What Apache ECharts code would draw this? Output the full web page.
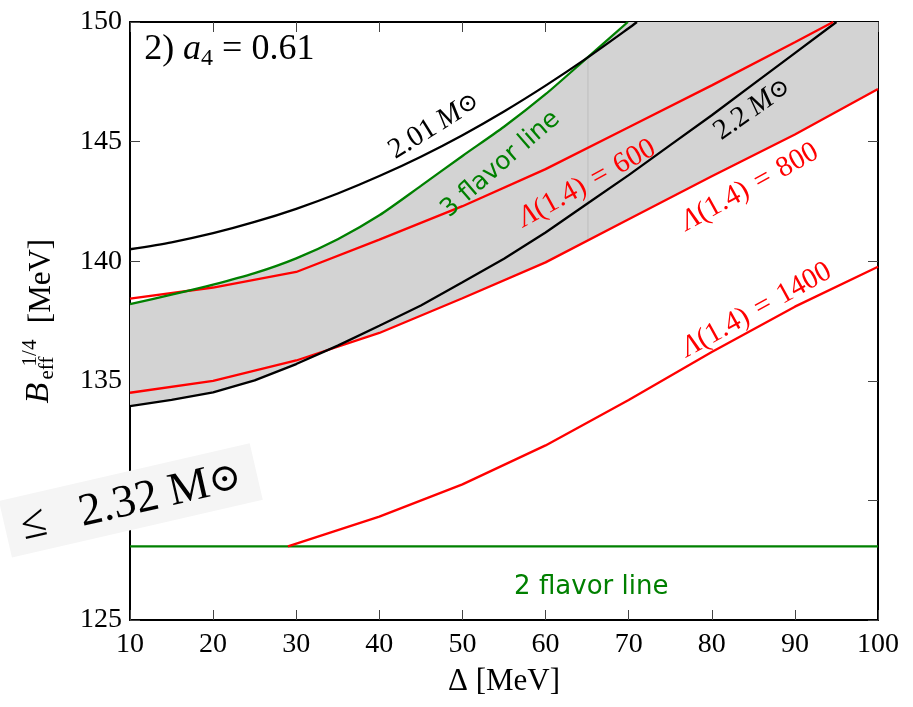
<!DOCTYPE html>
<html><head><meta charset="utf-8">
<script src="https://cdn.jsdelivr.net/npm/echarts@6/dist/echarts.min.js"></script>
<style>html,body{margin:0;padding:0;background:#fff}#c{width:913px;height:707px}</style>
</head><body><div id="c"></div>
<script>
// ---- data (Δ [MeV], B_eff^{1/4} [MeV]) ----
const xTicks = [10, 20, 30, 40, 50, 60, 70, 80, 90, 100];
const yTicks = [125, 130, 135, 140, 145, 150];
const mass201 = [[10,140.5],[15,140.79],[20,141.17],[25,141.64],[30,142.19],[35,142.83],[40,143.56],[45,144.37],[50,145.27],[55,146.26],[60,147.34],[65,148.5],[70,149.74],[71,150.0]];
const mass22 = [[10,133.94],[15,134.2],[20,134.52],[25,135.02],[30,135.7],[35,136.47],[40,137.3],[45,138.15],[50,139.12],[55,140.1],[60,141.2],[65,142.4],[70,143.6],[75,144.85],[80,146.1],[85,147.4],[90,148.7],[95,150.0]];
const flavor3 = [[10,138.21],[15,138.6],[20,139.02],[25,139.5],[30,140.12],[35,140.92],[40,141.92],[45,143.15],[50,144.4],[55,145.62],[60,146.98],[65,148.5],[69.9,150.0]];
const flavor2 = [[10,128.08],[100,128.08]];
const lam600 = [[10,138.44],[20,138.9],[30,139.55],[40,140.9],[50,142.3],[60,143.85],[70,145.6],[80,147.35],[90,149.15],[94.6,150.0]];
const lam800 = [[10,134.5],[20,135.0],[30,135.85],[40,137.0],[50,138.45],[60,139.95],[70,141.75],[80,143.55],[90,145.3],[100,147.2]];
const lam1400 = [[29,128.08],[40,129.32],[50,130.67],[60,132.3],[70,134.2],[80,136.2],[90,138.1],[100,139.77]];
const seam = [[65.1,148.5],[65.1,140.85]];

const SERIF = '"Liberation Serif","Times New Roman",serif';
const SANS = '"DejaVu Sans",sans-serif';
const RED = '#ff0000', GREEN = '#008000';

function interp(arr, x) {
  if (x < arr[0][0] || x > arr[arr.length-1][0]) return null;
  for (let i = 0; i < arr.length - 1; i++) {
    const a = arr[i], b = arr[i+1];
    if (x >= a[0] && x <= b[0]) return a[1] + (b[1]-a[1]) * (x-a[0]) / (b[0]-a[0]);
  }
  return arr[arr.length-1][1];
}
// shaded band: between 3-flavor line (capped at 150) and the lower of 2.2 Msun / Λ=800
const xs = [];
for (let x = 10; x <= 100.001; x += 0.5) xs.push(+x.toFixed(2));
const upper = xs.map(x => { const g = interp(flavor3, x); return [x, g === null ? 150 : Math.min(g, 150)]; });
const lower = xs.map(x => { const m = interp(mass22, x); const l = interp(lam800, x); return [x, m === null ? l : Math.min(m, l)]; });
const bandPts = upper.concat(lower.slice().reverse());

const chart = echarts.init(document.getElementById('c'), null, {renderer: 'canvas'});
const lineS = (data, color, smooth) => ({type: 'line', data, symbol: 'none', showSymbol: false, clip: true,
  smooth: smooth || false, lineStyle: {color, width: 2.3}, z: 3, silent: true});

const axisCommon = {
  type: 'value', splitLine: {show: false},
  axisLine: {show: true, onZero: false, lineStyle: {color: '#000', width: 2}},
  axisTick: {show: true, inside: true, length: 10, lineStyle: {color: '#444', width: 1}}
};
chart.setOption({
  animation: false,
  backgroundColor: '#fff',
  grid: {left: 130, right: 35, top: 22, bottom: 87},
  xAxis: [
    Object.assign({}, axisCommon, {position: 'bottom', min: xTicks[0], max: xTicks[xTicks.length-1], interval: 10,
      axisLabel: {fontFamily: SERIF, fontSize: 28, color: '#000', margin: 11},
      name: 'Δ [MeV]', nameLocation: 'middle', nameGap: 46,
      nameTextStyle: {fontFamily: SERIF, fontSize: 31, color: '#000'}}),
    Object.assign({}, axisCommon, {position: 'top', min: xTicks[0], max: xTicks[xTicks.length-1], interval: 10,
      axisLabel: {show: false}})
  ],
  yAxis: [
    Object.assign({}, axisCommon, {position: 'left', min: yTicks[0], max: yTicks[yTicks.length-1], interval: 5,
      axisLabel: {fontFamily: SERIF, fontSize: 28, color: '#000', margin: 8}}),
    Object.assign({}, axisCommon, {position: 'right', min: yTicks[0], max: yTicks[yTicks.length-1], interval: 5,
      axisLabel: {show: false}})
  ],
  series: [
    {type: 'custom', silent: true, z: 1, clip: true, data: [[10, 130]],
      renderItem: (p, api) => ({type: 'polygon', shape: {points: bandPts.map(q => api.coord(q))}, style: {fill: '#d3d3d3'}})},
    {type: 'line', data: seam, symbol: 'none', lineStyle: {color: '#bdbdbd', width: 1}, z: 2, silent: true},
    lineS(flavor2, GREEN),
    lineS(lam1400, RED),
    lineS(lam800, RED),
    lineS(mass22, '#000'),
    lineS(lam600, RED),
    lineS(flavor3, GREEN, 0.25),
    lineS(mass201, '#000', 0.25)
  ]
});

// ---- annotations (anchored in data coordinates) ----
const deg = d => d * Math.PI / 180;
const P = (x, y) => chart.convertToPixel({gridIndex: 0}, [x, y]);
const serifRich = (size, color) => ({
  n: {fontFamily: SERIF, fontSize: size, fill: color},
  i: {fontFamily: SERIF, fontSize: size, fill: color, fontStyle: 'italic'},
  o: {fontFamily: '"DejaVu Serif",serif', fontSize: size * 0.85, fill: color}
});
function label(x, y, rot, text, rich, extra) {
  const p = P(x, y);
  return {type: 'text', x: p[0], y: p[1], rotation: deg(rot), z: 100, silent: true,
    style: Object.assign({text, rich, align: 'center', verticalAlign: 'middle'}, (extra || {}))};
}
const lamRich = serifRich(29, RED);
const graphics = [
  (function () { const p = P(11.7, 148.85); return {type: 'text', x: p[0], y: p[1], z: 100, silent: true,
    style: {text: '{n|2) }{i|a}{s|4}{n|\u2005=\u20050.61}', align: 'left', verticalAlign: 'middle',
      rich: {n: {fontFamily: SERIF, fontSize: 36, fill: '#000'}, i: {fontFamily: SERIF, fontSize: 36, fill: '#000', fontStyle: 'italic'},
        s: {fontFamily: SERIF, fontSize: 24, fill: '#000', padding: [18, 0, 0, 0]}}}}; })(),
  label(46.6, 145.65, 32, '{n|2.01\u2009}{i|M}{o|\u2299}', serifRich(29, '#000')),
  label(54.6, 144.05, 41, '3 flavor line', null, {font: '25px ' + SANS, fill: GREEN}),
  label(65.0, 143.25, 29, '{i|Λ}{n|(1.4)\u2004=\u2004600}', lamRich),
  label(84.9, 146.35, 35, '{n|2.2\u2009}{i|M}{o|\u2299}', serifRich(29, '#000')),
  label(84.6, 143.1, 29, '{i|Λ}{n|(1.4)\u2004=\u2004800}', lamRich),
  label(85.4, 137.96, 29, '{i|Λ}{n|(1.4)\u2004=\u20041400}', lamRich),
  label(65.5, 126.38, 0, '2 flavor line', null, {font: '26px ' + SANS, fill: GREEN}),
  label(10.1, 130.0, 13, '{n|≤\u2002 2.32 M}{o|\u2299}', serifRich(46, '#000'),
    {backgroundColor: '#f5f5f5', padding: [8, 16, 4, 16]})
];
// y-axis title  B_eff^{1/4} [MeV]  (rotated, reads upward)
const yt = (sx, sy, text, size, italic) => ({type: 'text', x: sx, y: sy, rotation: deg(90), z: 100, silent: true,
  style: {text, align: 'center', verticalAlign: 'middle', fill: '#000',
    font: (italic ? 'italic ' : '') + size + 'px ' + SERIF}});
graphics.push(yt(39, 393, 'B', 34, true));
graphics.push(yt(30, 353, '1/4', 21, false));
graphics.push(yt(47, 368, 'eff', 21, false));
graphics.push(yt(42, 281, '[MeV]', 31, false));
chart.setOption({graphic: graphics});
</script></body></html>
